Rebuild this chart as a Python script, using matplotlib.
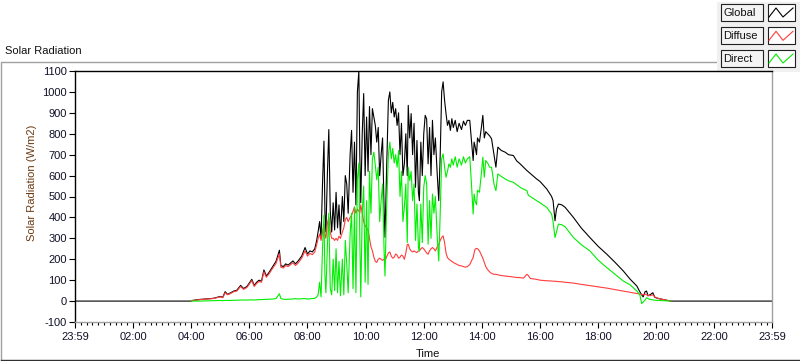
import matplotlib

matplotlib.use("Agg")
import matplotlib.pyplot as plt
from matplotlib.patches import Rectangle

plt.rcParams["font.family"] = ["Liberation Sans", "DejaVu Sans"]

# one row per hour block, values in W/m2
TIMES = [
    "04:00", "04:02", "04:18", "04:30", "04:45",
    "05:00", "05:05", "05:10", "05:15", "05:20", "05:28", "05:34", "05:42", "05:48", "05:55",
    "06:05", "06:10", "06:15", "06:20", "06:25", "06:30", "06:35", "06:40", "06:49", "06:55",
    "07:02", "07:05", "07:10", "07:15", "07:20", "07:30", "07:35", "07:40", "07:48", "07:55",
    "08:00", "08:05", "08:10", "08:15", "08:19", "08:22", "08:25", "08:28", "08:31", "08:34",
    "08:36", "08:38", "08:41", "08:44", "08:47", "08:50", "08:53", "08:56", "08:59",
    "09:02", "09:05", "09:08", "09:12", "09:15", "09:18", "09:21", "09:24", "09:28", "09:31",
    "09:34", "09:37", "09:40", "09:43", "09:46", "09:48", "09:50", "09:53", "09:56", "09:59",
    "10:02", "10:05", "10:08", "10:11", "10:14", "10:17", "10:20", "10:23", "10:26", "10:29",
    "10:32", "10:35", "10:38", "10:40", "10:43", "10:47", "10:50", "10:53", "10:56", "10:59",
    "11:02", "11:05", "11:08", "11:11", "11:14", "11:17", "11:20", "11:23", "11:26", "11:28",
    "11:31", "11:34", "11:37", "11:40", "11:43", "11:46", "11:49", "11:51", "11:54", "11:57",
    "12:00", "12:03", "12:06", "12:09", "12:12", "12:15", "12:18", "12:21", "12:24", "12:28",
    "12:31", "12:34", "12:37", "12:40", "12:43", "12:46", "12:49", "12:52", "12:55", "12:58",
    "13:01", "13:05", "13:09", "13:13", "13:18", "13:22", "13:26", "13:30", "13:35",
    "13:38", "13:42", "13:44", "13:46", "13:49", "13:51", "13:55", "13:59",
    "14:02", "14:05", "14:08", "14:12", "14:16", "14:20", "14:25", "14:29", "14:33", "14:40", "14:48", "14:55",
    "15:05", "15:12", "15:19", "15:26", "15:33", "15:36", "15:40", "15:53",
    "16:00", "16:14", "16:24", "16:27", "16:31", "16:34", "16:38", "16:45", "16:52",
    "17:09", "17:25", "17:43", "18:00", "18:18", "18:35", "18:52",
    "19:06", "19:20", "19:26", "19:30", "19:33", "19:37", "19:40", "19:43", "19:47", "19:53", "19:57",
    "20:05", "20:15", "20:25", "20:30",
]

GLOBAL = [
    0, 3, 8, 10, 13,
    22, 18, 45, 32, 38, 48, 52, 75, 60, 70,
    104, 75, 90, 100, 95, 149, 120, 135, 168, 190,
    243, 170, 165, 178, 172, 192, 178, 190, 215, 256,
    225, 240, 235, 250, 290, 333, 380, 300, 560, 765,
    420, 330, 600, 820, 430, 330, 470, 340, 520,
    350, 460, 320, 500, 380, 600, 560, 420, 700, 816,
    520, 760, 460, 1000, 1100, 700, 470, 800, 992, 600,
    880, 620, 930, 700, 920, 880, 840, 760, 830, 600,
    700, 780, 450, 305, 600, 960, 1000, 900, 950, 880,
    920, 840, 900, 700, 850, 600, 656, 800, 600, 936,
    780, 896, 700, 850, 544, 768, 520, 480, 760, 600,
    800, 888, 870, 656, 830, 600, 864, 700, 780, 600,
    480, 700, 1000, 1048, 960, 896, 840, 864, 816, 872,
    830, 864, 810, 850, 820, 860, 840, 864, 864,
    780, 672, 760, 740, 700, 780, 760, 830,
    888, 780, 810, 800, 790, 776, 700, 640, 736, 720, 712, 700,
    696, 670, 656, 640, 624, 618, 610, 584,
    572, 536, 500, 480, 384, 440, 464, 460, 448,
    400, 350, 304, 262, 224, 185, 144,
    105, 72, 45, 30, 20, 45, 48, 25, 30, 40, 18,
    12, 7, 2, 0,
]

DIFFUSE = [
    0, 2, 7, 9, 12,
    20, 16, 40, 30, 35, 45, 48, 70, 56, 65,
    98, 70, 84, 94, 90, 140, 114, 128, 160, 180,
    226, 162, 158, 170, 165, 183, 170, 180, 205, 240,
    215, 228, 222, 235, 270, 300, 320, 290, 330, 370,
    320, 300, 370, 400, 330, 300, 300, 290, 300,
    290, 310, 300, 330, 350, 390, 400, 380, 400, 410,
    430, 450, 420, 440, 430, 420, 460, 420, 380, 360,
    350, 340, 300, 260, 240, 210, 190, 185, 200, 205,
    200, 195, 200, 190, 210, 230, 235, 215, 205, 210,
    225, 220, 205, 210, 220, 215, 200, 230, 270, 272,
    250, 240, 235, 240, 235, 232, 240, 240, 250, 256,
    250, 240, 230, 224, 240, 250, 256, 250, 240, 260,
    270, 290, 305, 312, 280, 230, 208, 200, 195, 190,
    184, 180, 175, 170, 168, 165, 162, 165, 175,
    190, 208, 230, 248, 252, 250, 240, 220,
    205, 185, 165, 150, 140, 132, 128, 128, 126, 122, 120, 118,
    115, 113, 112, 110, 128, 122, 108, 104,
    100, 97, 96, 95, 95, 94, 93, 92, 90,
    86, 80, 74, 68, 62, 55, 48,
    42, 36, 34, 32, 30, 33, 30, 28, 26, 30, 20,
    12, 7, 2, 0,
]

DIRECT = [
    0, 0, 0, 1, 2,
    3, 2, 3, 3, 3, 4, 4, 5, 5, 5,
    6, 5, 6, 7, 7, 8, 8, 9, 10, 12,
    35, 12, 9, 8, 9, 10, 12, 10, 11, 12,
    10, 11, 12, 13, 20, 30, 90, 20, 250, 410,
    120, 40, 260, 420, 60, 30, 200, 50, 250,
    40, 190, 25, 200, 30, 290, 180, 40, 320, 420,
    60, 450, 40, 580, 660, 300, 20, 420, 550, 90,
    480, 80, 620, 420, 680, 712, 650, 580, 640, 380,
    480, 560, 250, 120, 420, 700, 760, 680, 730, 660,
    700, 640, 720, 500, 620, 380, 450, 560, 280, 640,
    576, 620, 480, 560, 290, 464, 260, 240, 464, 280,
    544, 600, 560, 272, 480, 300, 512, 420, 500, 300,
    192, 420, 680, 704, 640, 592, 620, 656, 640, 680,
    650, 690, 640, 680, 650, 690, 660, 680, 690,
    580, 416, 512, 480, 460, 530, 520, 610,
    688, 592, 672, 660, 640, 640, 560, 528, 608, 596, 584, 575,
    568, 556, 544, 535, 528, 505, 500, 480,
    470, 448, 416, 380, 304, 330, 368, 365, 355,
    304, 270, 240, 196, 160, 128, 96,
    78, 48, 30, -12, -5, 5, 16, 12, 8, 6, 4,
    3, 2, 0, 0,
]

# global sensor logs zero through the night
NIGHT_START = "00:00"
NIGHT_END = "23:59"

SERIES = ["Global", "Diffuse", "Direct"]
COLORS = ["#000000", "#ff3c3c", "#00ee00"]

X_TICKS = ["23:59", "02:00", "04:00", "06:00", "08:00", "10:00", "12:00",
           "14:00", "16:00", "18:00", "20:00", "22:00", "23:59"]
Y_TICKS = list(range(-100, 1101, 100))


def minutes(hhmm):
    h, m = hhmm.split(":")
    return int(h) * 60 + int(m)


W, H = 800, 361
fig = plt.figure(figsize=(W / 100, H / 100), dpi=100)

# page furniture drawn in pixel coordinates
over = fig.add_axes([0, 0, 1, 1], zorder=0)
over.set_xlim(0, W)
over.set_ylim(H, 0)
over.axis("off")
over.plot([0.5, 0.5, 717], [360, 61.5, 61.5], color="#a0a0a0", lw=1.0)
over.plot([0.5, 799], [360, 360], color="#303030", lw=1.0)
over.text(5, 51, "Solar Radiation", fontsize=8, va="center", ha="left", color="#101010")
over.text(32, 183, "Solar Radiation (W/m2)", fontsize=8, rotation=90,
          va="center", ha="center", color="#6a3a14")
over.text(428, 354, "Time", fontsize=8, va="center", ha="center", color="#101010")

# legend panel
over.add_patch(Rectangle((717, 1.5), 83, 70.5, facecolor="#f0f0f0", edgecolor="none", zorder=3))
rows = [4, 27.3, 50]
for name, col, top in zip(SERIES, COLORS, rows):
    over.add_patch(Rectangle((720.5, top), 42.5, 16.5, facecolor="#f4f4f4",
                             edgecolor="#202020", lw=0.8, zorder=4))
    over.add_patch(Rectangle((767.5, top), 27.5, 16.5, facecolor="white",
                             edgecolor="#202020", lw=0.8, zorder=4))
    over.text(723, top + 8.5, name, fontsize=8, va="center", ha="left", color="#101010", zorder=5)
    over.plot([769, 776, 783, 793], [top + 13, top + 4, top + 13, top + 4],
              color=col, lw=0.8, zorder=5)

L, R, T, B = 75, 772, 71, 322
ax = fig.add_axes([L / W, 1 - B / H, (R - L) / W, (B - T) / H], zorder=1)

t_day = [minutes(s) for s in TIMES]
t_global = [minutes(NIGHT_START)] + t_day + [minutes(NIGHT_END)]
ax.plot(t_global, [0] + GLOBAL + [0], color=COLORS[0], lw=0.8)
ax.plot(t_day, DIFFUSE, color=COLORS[1], lw=0.8)
ax.plot(t_day, DIRECT, color=COLORS[2], lw=0.8)

ax.set_xlim(0, 1439)
ax.set_ylim(-100, 1100)
ax.set_xticks([min(120 * i, 1439) for i in range(len(X_TICKS))])
ax.set_xticklabels(X_TICKS)
ax.set_xticks(list(range(0, 1439, 12)), minor=True)
ax.set_yticks(Y_TICKS)
ax.set_yticklabels([str(v) for v in Y_TICKS])

ax.tick_params(axis="both", which="major", direction="out", length=4, width=0.8,
               labelsize=8, labelcolor="#101028", color="black")
ax.tick_params(axis="x", which="major", pad=3)
ax.tick_params(axis="y", which="major", pad=2)
ax.tick_params(axis="x", which="minor", direction="out", length=2.5, width=0.8, color="black")

for side in ["left", "top"]:
    ax.spines[side].set_color("black")
    ax.spines[side].set_linewidth(1.0)
for side in ["right", "bottom"]:
    ax.spines[side].set_color("#a0a0a0")
    ax.spines[side].set_linewidth(1.0)

fig.savefig("out.png", dpi=100)
